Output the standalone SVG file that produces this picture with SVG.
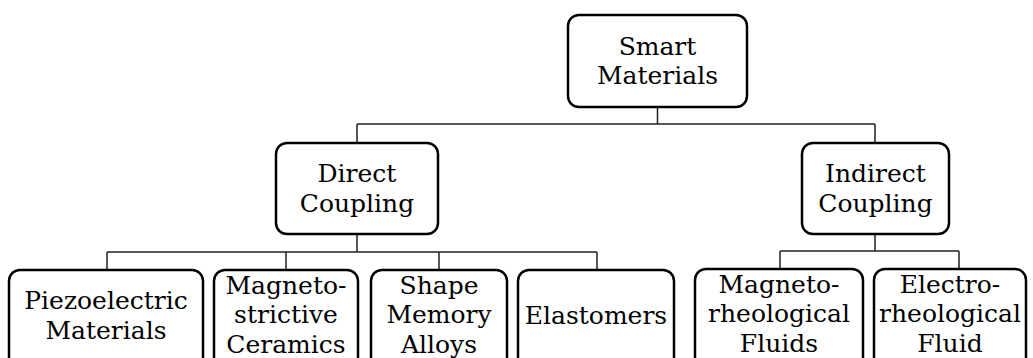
<svg xmlns="http://www.w3.org/2000/svg" width="1033" height="358" viewBox="0 0 1033 358">
<style>
.box{fill:#fff;stroke:#000;stroke-width:2.5}
.t{font-family:'DejaVu Serif','Liberation Serif',serif;font-size:25px;fill:#000;text-anchor:middle}
.c{fill:none;stroke:#222;stroke-width:1.5}
</style>
<rect width="1033" height="358" fill="#fff"/>
<g id="connectors">
<path class="c" d="M657.5 107V124M357 124H875M357 124V143M875 124V143"/>
<path class="c" d="M357 234V252M107 252H597M107 252V270M286 252V270M439 252V270M597 252V270"/>
<path class="c" d="M875 234V251M780 251H959M780 251V269M959 251V269"/>
</g>
<g id="smart">
<rect class="box" x="568" y="15" width="179" height="92" rx="11"/>
<text class="t" x="657.5" y="55">Smart</text>
<text class="t" x="657.5" y="84">Materials</text>
</g>
<g id="direct">
<rect class="box" x="276" y="143" width="162" height="91" rx="11"/>
<text class="t" x="357" y="182">Direct</text>
<text class="t" x="357" y="212">Coupling</text>
</g>
<g id="indirect">
<rect class="box" x="802" y="143" width="147" height="91" rx="11"/>
<text class="t" x="875.5" y="182">Indirect</text>
<text class="t" x="875.5" y="212">Coupling</text>
</g>
<g id="piezo">
<rect class="box" x="9" y="270" width="194" height="110" rx="11"/>
<text class="t" x="106" y="309">Piezoelectric</text>
<text class="t" x="106" y="339">Materials</text>
</g>
<g id="magnetostrictive">
<rect class="box" x="214" y="270" width="144" height="110" rx="11"/>
<text class="t" x="286" y="294">Magneto-</text>
<text class="t" x="286" y="323">strictive</text>
<text class="t" x="286" y="353">Ceramics</text>
</g>
<g id="sma">
<rect class="box" x="371" y="270" width="136" height="110" rx="11"/>
<text class="t" x="439" y="294">Shape</text>
<text class="t" x="439" y="323">Memory</text>
<text class="t" x="439" y="353">Alloys</text>
</g>
<g id="elastomers">
<rect class="box" x="518" y="270" width="156" height="110" rx="11"/>
<text class="t" x="596" y="324">Elastomers</text>
</g>
<g id="mrf">
<rect class="box" x="695" y="269" width="168" height="110" rx="11"/>
<text class="t" x="779" y="293">Magneto-</text>
<text class="t" x="779" y="322">rheological</text>
<text class="t" x="779" y="352">Fluids</text>
</g>
<g id="erf">
<rect class="box" x="874" y="269" width="152" height="110" rx="11"/>
<text class="t" x="950" y="293">Electro-</text>
<text class="t" x="950" y="322">rheological</text>
<text class="t" x="950" y="352">Fluid</text>
</g>
</svg>
